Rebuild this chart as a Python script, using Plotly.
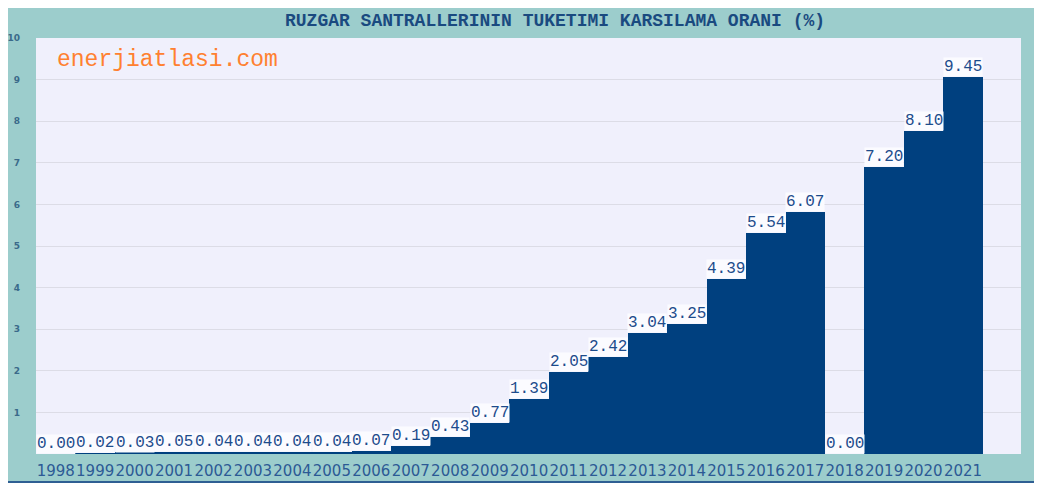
import plotly.graph_objects as go

## DATA
years = [str(y) for y in range(1998, 2022)]
oran = [0.00, 0.02, 0.03, 0.05, 0.04, 0.04, 0.04, 0.04, 0.07, 0.19, 0.43, 0.77,
        1.39, 2.05, 2.42, 3.04, 3.25, 4.39, 5.54, 6.07, 0.00, 7.20, 8.10, 9.45]
grid_labels = [str(k) for k in range(1, 11)]

baslik = "RUZGAR SANTRALLERININ TUKETIMI KARSILAMA ORANI (%)"
site = "enerjiatlasi.com"

## STYLE
TEAL = "#9ccdcc"
BAR = "#00407f"
TXT = "#1d4c8c"
PLOT_BG = "#f0f0fc"

# the original chart draws bars a bit short of its gridlines: top of axis = 10.43
ymax = 10.43
grid_vals = [ymax * (i + 1) / len(grid_labels) for i in range(len(grid_labels))]

fig = go.Figure(go.Bar(
    x=years, y=oran,
    marker=dict(color=BAR, line=dict(width=0)),
    hoverinfo="x+y"))

# value labels on a light box above each bar (x by category index)
for i, v in enumerate(oran):
    fig.add_annotation(
        x=i, y=v, text=f"{v:.2f}", showarrow=False,
        xanchor="center", yanchor="bottom",
        bgcolor="#fbfbff", borderpad=0,
        font=dict(family="Liberation Mono", size=16, color=TXT))

# teal frame behind everything
fig.add_shape(type="rect", xref="paper", yref="paper",
              x0=-0.0305, x1=1.0193, y0=-0.0673, y1=1.077,
              fillcolor=TEAL, line=dict(color="#2f5f93", width=2), layer="below")
fig.add_shape(type="rect", xref="paper", yref="paper",
              x0=0, x1=1, y0=0, y1=1,
              fillcolor=PLOT_BG, line=dict(width=0), layer="below")

fig.add_annotation(
    xref="paper", yref="paper", x=0.019, y=0.947,
    xanchor="left", yanchor="middle", showarrow=False,
    text=site, font=dict(family="Liberation Mono", size=23, color="#ff8030"))

# page body adds 8px offset, margins compensate for it
fig.update_layout(
    width=1042, height=484,
    margin=dict(l=28, r=29, t=30, b=38),
    paper_bgcolor="white",
    plot_bgcolor="rgba(0,0,0,0)",
    bargap=0,
    showlegend=False,
    title=dict(text=baslik, x=0.525, xref="container", y=0.975, yref="container",
               xanchor="center", yanchor="middle", automargin=False,
               font=dict(family="Liberation Mono", size=18, color="#1a4a80", weight="bold")),
    xaxis=dict(type="category", range=[-0.5, 24.47], showgrid=False, zeroline=False,
               ticks="", tickangle=0, automargin=False, ticklabelstandoff=6,
               tickfont=dict(family="DejaVu Sans", size=15, color="#2c5a95")),
    yaxis=dict(range=[0, ymax], tickvals=grid_vals, ticktext=grid_labels,
               showgrid=True, gridcolor="#dcdce6", gridwidth=1, zeroline=False,
               ticks="", ticklabelstandoff=15, automargin=False,
               tickfont=dict(family="DejaVu Sans", size=9, color="#3a6a8a", weight="bold")),
)

fig.write_html("out.html")
